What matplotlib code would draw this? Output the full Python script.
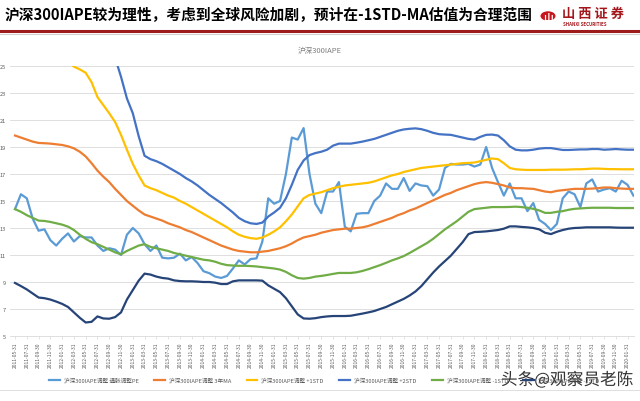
import numpy as np
import pandas as pd
import matplotlib
matplotlib.use('Agg')
import matplotlib.pyplot as plt
import matplotlib.patheffects as pe
from matplotlib.patches import Circle

plt.rcParams['font.family'] = ['Noto Sans CJK SC', 'DejaVu Sans']

# monthly observations, 2011-05 .. 2020-02
dates = pd.date_range('2011-05-31', periods=106, freq='ME')

pe_adj = [14.4, 15.5, 15.2, 13.7, 12.8, 12.9, 12.1, 11.7, 12.2, 12.6,
          12.0, 12.4, 12.3, 12.3, 11.7, 11.3, 11.5, 11.4, 11.0, 12.5,
          13.0, 12.6, 11.8, 11.3, 11.7, 10.8, 10.75, 10.8, 11.1, 10.6,
          10.85, 10.4, 9.8, 9.65, 9.4, 9.3, 9.45, 10.0, 10.6, 10.3,
          10.7, 10.75, 12.0, 15.2, 14.8, 15.0, 17.0, 19.7, 19.55, 20.4,
          17.0, 14.8, 14.1, 15.7, 15.7, 16.4, 13.1, 12.75, 14.05, 14.1,
          14.1, 15.0, 15.4, 16.3, 15.9, 15.9, 16.7, 15.75, 16.3, 16.15,
          16.1, 15.4, 15.85, 17.45, 17.75, 17.7, 17.7, 17.75, 17.55, 17.7,
          19.0, 17.45, 16.4, 15.4, 16.3, 15.2, 15.2, 14.25, 14.85, 13.6,
          13.3, 12.85, 13.3, 15.2, 15.7, 15.5, 14.55, 16.3, 16.6, 15.7,
          15.85, 15.95, 15.7, 16.5, 16.2, 15.4]

ma3 = [19.85, 19.7, 19.55, 19.4, 19.3, 19.28, 19.25, 19.2, 19.15, 19.05,
       18.9, 18.65, 18.3, 17.8, 17.25, 16.8, 16.4, 15.9, 15.45, 15.0,
       14.65, 14.3, 14.0, 13.85, 13.7, 13.55, 13.35, 13.2, 13.05, 12.85,
       12.7, 12.5, 12.3, 12.1, 11.9, 11.7, 11.55, 11.4, 11.3, 11.25,
       11.2, 11.2, 11.25, 11.3, 11.4, 11.5, 11.65, 11.85, 12.1, 12.3,
       12.4, 12.5, 12.65, 12.75, 12.85, 12.9, 12.95, 12.95, 13.0, 13.05,
       13.15, 13.3, 13.45, 13.6, 13.75, 13.95, 14.1, 14.3, 14.45, 14.65,
       14.85, 15.05, 15.25, 15.45, 15.6, 15.8, 15.95, 16.1, 16.25, 16.35,
       16.4, 16.35, 16.25, 16.15, 16.0, 15.95, 15.95, 15.92, 15.9, 15.8,
       15.7, 15.65, 15.75, 15.8, 15.85, 15.9, 15.9, 15.9, 15.92, 15.95,
       16.0, 16.0, 15.95, 15.92, 15.9, 15.9]

plus1 = [28.0, 27.8, 27.5, 27.2, 26.9, 26.6, 26.3, 26.0, 25.7, 25.35,
         24.95, 24.75, 24.5, 23.8, 22.7, 22.1, 21.5, 20.85, 19.9, 18.8,
         17.75, 16.9, 16.15, 15.95, 15.8, 15.6, 15.4, 15.25, 15.0, 14.8,
         14.55, 14.3, 14.05, 13.8, 13.55, 13.3, 13.05, 12.75, 12.5, 12.35,
         12.25, 12.2, 12.3, 12.5, 12.75, 13.05, 13.5, 14.0, 14.6, 15.2,
         15.45, 15.55, 15.65, 15.8, 15.95, 16.05, 16.15, 16.2, 16.25, 16.3,
         16.35, 16.45, 16.6, 16.75, 16.9, 17.0, 17.15, 17.25, 17.35, 17.45,
         17.5, 17.55, 17.6, 17.65, 17.7, 17.75, 17.8, 17.82, 17.85, 17.95,
         18.05, 18.15, 18.1, 17.8, 17.45, 17.35, 17.32, 17.3, 17.3, 17.3,
         17.3, 17.32, 17.32, 17.32, 17.33, 17.35, 17.35, 17.37, 17.4, 17.4,
         17.38, 17.36, 17.36, 17.35, 17.35, 17.35]

plus2 = [35.0, 34.5, 34.0, 33.5, 33.0, 32.5, 32.0, 31.5, 31.0, 30.5,
         30.0, 29.5, 29.0, 28.5, 27.8, 27.0, 26.3, 25.6, 24.2, 22.6,
         21.5, 19.8, 18.35, 18.1, 17.95, 17.75, 17.5, 17.25, 17.0, 16.7,
         16.45, 16.15, 15.8, 15.45, 15.15, 14.85, 14.5, 14.15, 13.75, 13.5,
         13.35, 13.3, 13.4, 13.85, 14.15, 14.5, 15.2, 16.2, 17.3, 18.0,
         18.4, 18.55, 18.65, 18.8, 19.1, 19.25, 19.25, 19.25, 19.32, 19.4,
         19.5, 19.6, 19.75, 19.9, 20.05, 20.2, 20.3, 20.35, 20.38, 20.32,
         20.2, 20.05, 19.95, 19.92, 19.9, 19.8, 19.7, 19.6, 19.55, 19.75,
         19.9, 19.92, 19.85, 19.5, 19.05, 18.8, 18.75, 18.75, 18.8, 18.88,
         18.92, 18.92, 18.85, 18.78, 18.78, 18.8, 18.82, 18.82, 18.85, 18.85,
         18.8, 18.82, 18.85, 18.82, 18.8, 18.8]

minus1 = [14.4, 14.2, 13.95, 13.75, 13.55, 13.52, 13.45, 13.35, 13.25, 13.1,
          12.85, 12.5, 12.2, 11.95, 11.8, 11.6, 11.4, 11.2, 11.05, 11.3,
          11.5, 11.7, 11.8, 11.6, 11.5, 11.4, 11.3, 11.15, 11.05, 10.95,
          10.85, 10.75, 10.65, 10.6, 10.5, 10.35, 10.25, 10.22, 10.2, 10.2,
          10.18, 10.15, 10.1, 10.05, 10.0, 9.92, 9.75, 9.5, 9.3, 9.25,
          9.3, 9.4, 9.45, 9.52, 9.6, 9.67, 9.67, 9.67, 9.72, 9.82,
          9.95, 10.1, 10.25, 10.42, 10.6, 10.75, 10.92, 11.15, 11.4, 11.65,
          11.9, 12.2, 12.55, 12.9, 13.2, 13.5, 13.85, 14.2, 14.4, 14.45,
          14.5, 14.55, 14.55, 14.55, 14.56, 14.58, 14.55, 14.5, 14.42, 14.3,
          14.12, 14.12, 14.2, 14.25, 14.35, 14.42, 14.45, 14.48, 14.5, 14.5,
          14.5, 14.5, 14.48, 14.48, 14.48, 14.48]

minus2 = [8.93, 8.7, 8.45, 8.15, 7.85, 7.8, 7.7, 7.55, 7.38, 7.15,
          6.75, 6.35, 6.0, 6.05, 6.45, 6.3, 6.28, 6.4, 6.75, 7.7,
          8.4, 9.1, 9.62, 9.55, 9.4, 9.3, 9.25, 9.12, 9.07, 9.05,
          9.05, 9.03, 9.0, 9.0, 8.95, 8.85, 8.85, 9.05, 9.12, 9.12,
          9.12, 9.12, 9.1, 8.75, 8.5, 8.25, 7.8, 7.2, 6.6, 6.3,
          6.28, 6.32, 6.4, 6.45, 6.48, 6.48, 6.48, 6.5, 6.58, 6.66,
          6.75, 6.85, 7.0, 7.15, 7.35, 7.55, 7.75, 8.0, 8.3, 8.7,
          9.2, 9.7, 10.15, 10.55, 10.95, 11.45, 11.95, 12.55, 12.7, 12.72,
          12.75, 12.8, 12.85, 12.95, 13.12, 13.12, 13.08, 13.05, 13.0, 12.9,
          12.65, 12.55, 12.72, 12.85, 12.95, 13.0, 13.02, 13.05, 13.05, 13.05,
          13.05, 13.05, 13.03, 13.02, 13.02, 13.02]

series_names = ['沪深300IAPE调整 通胀调整PE', '沪深300IAPE调整 3年MA',
                '沪深300IAPE调整 +1STD', '沪深300IAPE调整 +2STD',
                '沪深300IAPE调整 -1STD', '沪深300IAPE调整 -2STD']
series_vals = [pe_adj, ma3, plus1, plus2, minus1, minus2]
colors = ['#5B9BD5', '#ED7D31', '#FFC000', '#4472C4', '#70AD47', '#264478']

tick_idx = list(range(0, len(dates), 2))
tick_labels = [dates[i].strftime('%Y-%m-%d') for i in tick_idx]
y_ticks = [5, 7, 9, 11, 13, 15, 17, 19, 21, 23, 25]

fig = plt.figure(figsize=(6.4, 4.02), dpi=100)
W, H = 640, 402

# header
fig.text(5 / W, 1 - 15 / H, '沪深300IAPE较为理性，考虑到全球风险加剧，预计在-1STD-MA估值为合理范围',
         fontsize=10.6, fontweight='bold', color='black', va='center', ha='left')
fig.add_artist(plt.Line2D([0, 1], [1 - 32 / H, 1 - 32 / H], color='#9E1B1B', lw=2.2,
                          transform=fig.transFigure))
fig.add_artist(plt.Line2D([0, 1], [1 - 34.5 / H, 1 - 34.5 / H], color='#D0D0D0', lw=0.8,
                          transform=fig.transFigure))
fig.add_artist(Circle((548 / W, 1 - 17 / H), 7.5 / W, transform=fig.transFigure,
                      facecolor='#C8161D', edgecolor='none'))
fig.text(548 / W, 1 - 17.5 / H, '山', fontsize=7, color='white', fontweight='bold',
         ha='center', va='center')
fig.text(562 / W, 1 - 14 / H, '山 西 证 券', fontsize=9.5, fontweight='bold',
         color='#A3161C', ha='left', va='center')
fig.text(563 / W, 1 - 25 / H, 'SHANXI SECURITIES', fontsize=3.2, fontweight='bold',
         color='#A3161C', ha='left', va='center')

fig.text(320 / W, 1 - 51 / H, '沪深300IAPE', fontsize=5.5, color='#7F7F7F',
         ha='center', va='center')

ax = fig.add_axes([10 / W, 1 - 337 / H, 624 / W, 270 / H])
x = np.arange(len(dates))
for name, vals, c in zip(series_names, series_vals, colors):
    ax.plot(x, vals, color=c, lw=1.6, label=name, solid_joinstyle='round')

ax.set_ylim(5, 25)
ax.set_xlim(-0.85, 105.1)
ax.set_yticks(y_ticks)
ax.set_yticklabels([str(v) for v in y_ticks])
ax.set_xticks(tick_idx)
ax.set_xticklabels(tick_labels, rotation=90)
ax.tick_params(axis='y', length=0, labelsize=4, labelcolor='#595959', pad=3)
ax.tick_params(axis='x', length=2, width=0.5, color='#D9D9D9', labelsize=3.5,
               labelcolor='#595959', pad=2)
ax.grid(axis='y', color='#D9D9D9', lw=0.6)
ax.set_axisbelow(True)
for s in ['top', 'right', 'left']:
    ax.spines[s].set_visible(False)
ax.spines['bottom'].set_color('#D9D9D9')
ax.spines['bottom'].set_linewidth(0.6)

fig.legend(loc='center left', bbox_to_anchor=(49 / W, 1 - 381 / H), ncol=6, frameon=False,
           fontsize=4.1, handlelength=1.9, columnspacing=2.7, handletextpad=0.7,
           borderpad=0, borderaxespad=0, labelcolor='#595959')

fig.add_artist(plt.Line2D([0, 1], [1 - 391 / H, 1 - 391 / H], color='#D9D9D9', lw=0.6,
                          transform=fig.transFigure))

# watermark sitting over the tail of the legend
wm = fig.text(567 / W, 1 - 381 / H, '头条@观察员老陈', fontsize=12, color='#333333',
              ha='center', va='center')
wm.set_path_effects([pe.withStroke(linewidth=3, foreground='white')])
wm.set_bbox(dict(facecolor='white', edgecolor='none', alpha=0.9, pad=1.0))

plt.savefig('out.png', dpi=100)
